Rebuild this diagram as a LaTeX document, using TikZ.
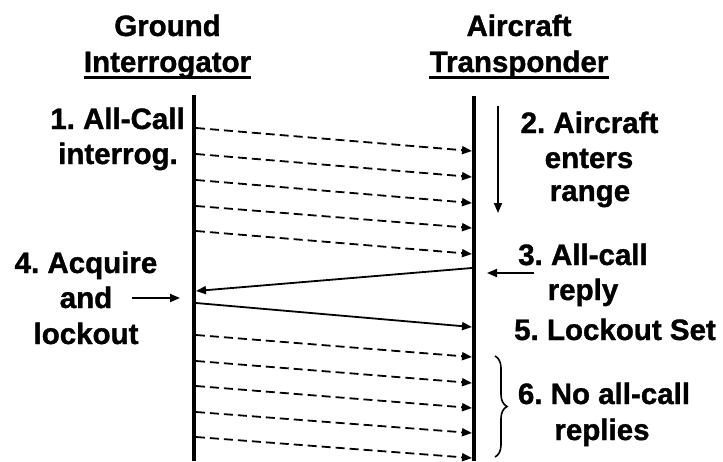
\documentclass[tikz,border=0pt]{standalone}
\usepackage{fontspec}
\setmainfont{Liberation Sans}[BoldFeatures={FakeBold=1.2}]
\usetikzlibrary{arrows.meta,decorations.pathreplacing,calc}
\frenchspacing
\begin{document}
\begin{tikzpicture}[x=1pt,y=-1pt,
  lbl/.style={font=\fontsize{29.5}{36}\selectfont\bfseries\frenchspacing, inner sep=0pt, anchor=base},
  timeline/.style={line width=3.5pt},
  sig/.style={line width=1.8pt, -{Triangle[length=10pt,width=8pt]}},
  dsig/.style={sig, dash pattern=on 9pt off 5pt},
  uline/.style={line width=2.2pt},
]
\useasboundingbox (0,0) rectangle (723,461);
% headings
\node[lbl] (g1) at (167.5,36) {Ground};
\node[lbl] (g2) at (167.5,72) {Interrogator};
\node[lbl] (a1) at (519,36) {Aircraft};
\node[lbl] (a2) at (519,72) {Transponder};
\draw[uline] ($(g2.base west)+(0,5.5)$) -- ($(g2.base east)+(0,5.5)$);
\draw[uline] ($(a2.base west)+(0,5.5)$) -- ($(a2.base east)+(0,5.5)$);
% timelines
\coordinate (GT) at (194,95); \coordinate (GB) at (194,461);
\coordinate (AT) at (474,96); \coordinate (AB) at (474,461);
\draw[timeline] (GT) -- (GB);
\draw[timeline] (AT) -- (AB);
% dashed interrogations (top)
\foreach \i/\ys/\ye in {1/128/151,2/154/177,3/180/203,4/206/228,5/231/254}{
  \coordinate (Ls\i) at (196,\ys); \coordinate (Re\i) at (472,\ye);
  \draw[dsig] (Ls\i) -- (Re\i);
}
% reply and lockout
\coordinate (Rr) at (472,268); \coordinate (Lr) at (196,291);
\draw[sig] (Rr) -- (Lr);
\coordinate (Ll) at (196,303); \coordinate (Rl) at (472,327);
\draw[sig] (Ll) -- (Rl);
% dashed interrogations (bottom)
\foreach \i/\ys/\ye in {6/335/357,7/361/383,8/386/408,9/412/433,10/437/458}{
  \coordinate (Ls\i) at (196,\ys); \coordinate (Re\i) at (472,\ye);
  \draw[dsig] (Ls\i) -- (Re\i);
}
% labels left
\node[lbl] (t1a) at (117.5,129) {1. All-Call};
\node[lbl] (t1b) at (118,164) {interrog.};
\node[lbl] (t4a) at (86,273) {4. Acquire};
\node[lbl] (t4b) at (86,308) {and};
\node[lbl] (t4c) at (86,344) {lockout};
% labels right
\node[lbl] (t2a) at (589.5,133) {2. Aircraft};
\node[lbl] (t2b) at (589,168) {enters};
\node[lbl] (t2c) at (590,201) {range};
\node[lbl] (t3a) at (583,265) {3. All-call};
\node[lbl] (t3b) at (583,300) {reply};
\node[lbl,anchor=base west] (t5) at (514,340) {5. Lockout Set};
\node[lbl] (t6a) at (604,404) {6. No all-call};
\node[lbl] (t6b) at (602,440) {replies};
% pointer arrows
\coordinate (d1) at (498,106); \coordinate (d2) at (498,213);
\draw[sig] (d1) -- (d2);
\coordinate (p1) at (534,273); \coordinate (p2) at (487,273);
\draw[sig] (p1) -- (p2);
\coordinate (q1) at (132,298); \coordinate (q2) at (180,298);
\draw[sig] (q1) -- (q2);
% brace
\coordinate (b1) at (495,356); \coordinate (b2) at (495,457);
\draw[line width=1.6pt, decorate, decoration={brace, amplitude=12pt}] (b1) -- (b2);
\end{tikzpicture}
\end{document}
